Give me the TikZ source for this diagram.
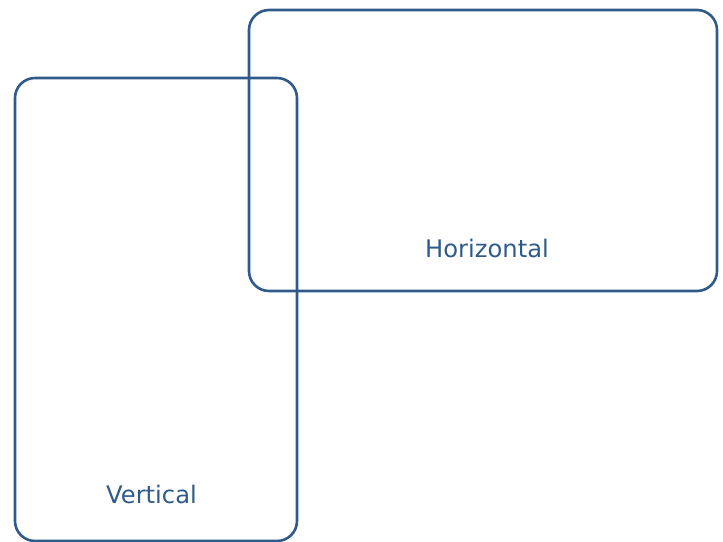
\documentclass[tikz,border=0pt]{standalone}
\usepackage{fontspec}
\setmainfont{DejaVu Sans}
\definecolor{boxblue}{HTML}{2F5A8A}
\begin{document}
\begin{tikzpicture}[x=1pt,y=-1pt,
  panel/.style={draw=boxblue,line width=2.6pt,rounded corners=20pt},
  lab/.style={text=boxblue,font=\fontsize{24.2}{28}\selectfont,inner sep=0pt}]
\useasboundingbox (0,0) rectangle (723,541);
\draw[panel] (15,78) rectangle (297,541);
\draw[panel] (249,10) rectangle (717,291);
\node[lab] (h) at (487,248) {Horizontal};
\node[lab] (v) at (151.5,494) {Vertical};
\end{tikzpicture}
\end{document}
